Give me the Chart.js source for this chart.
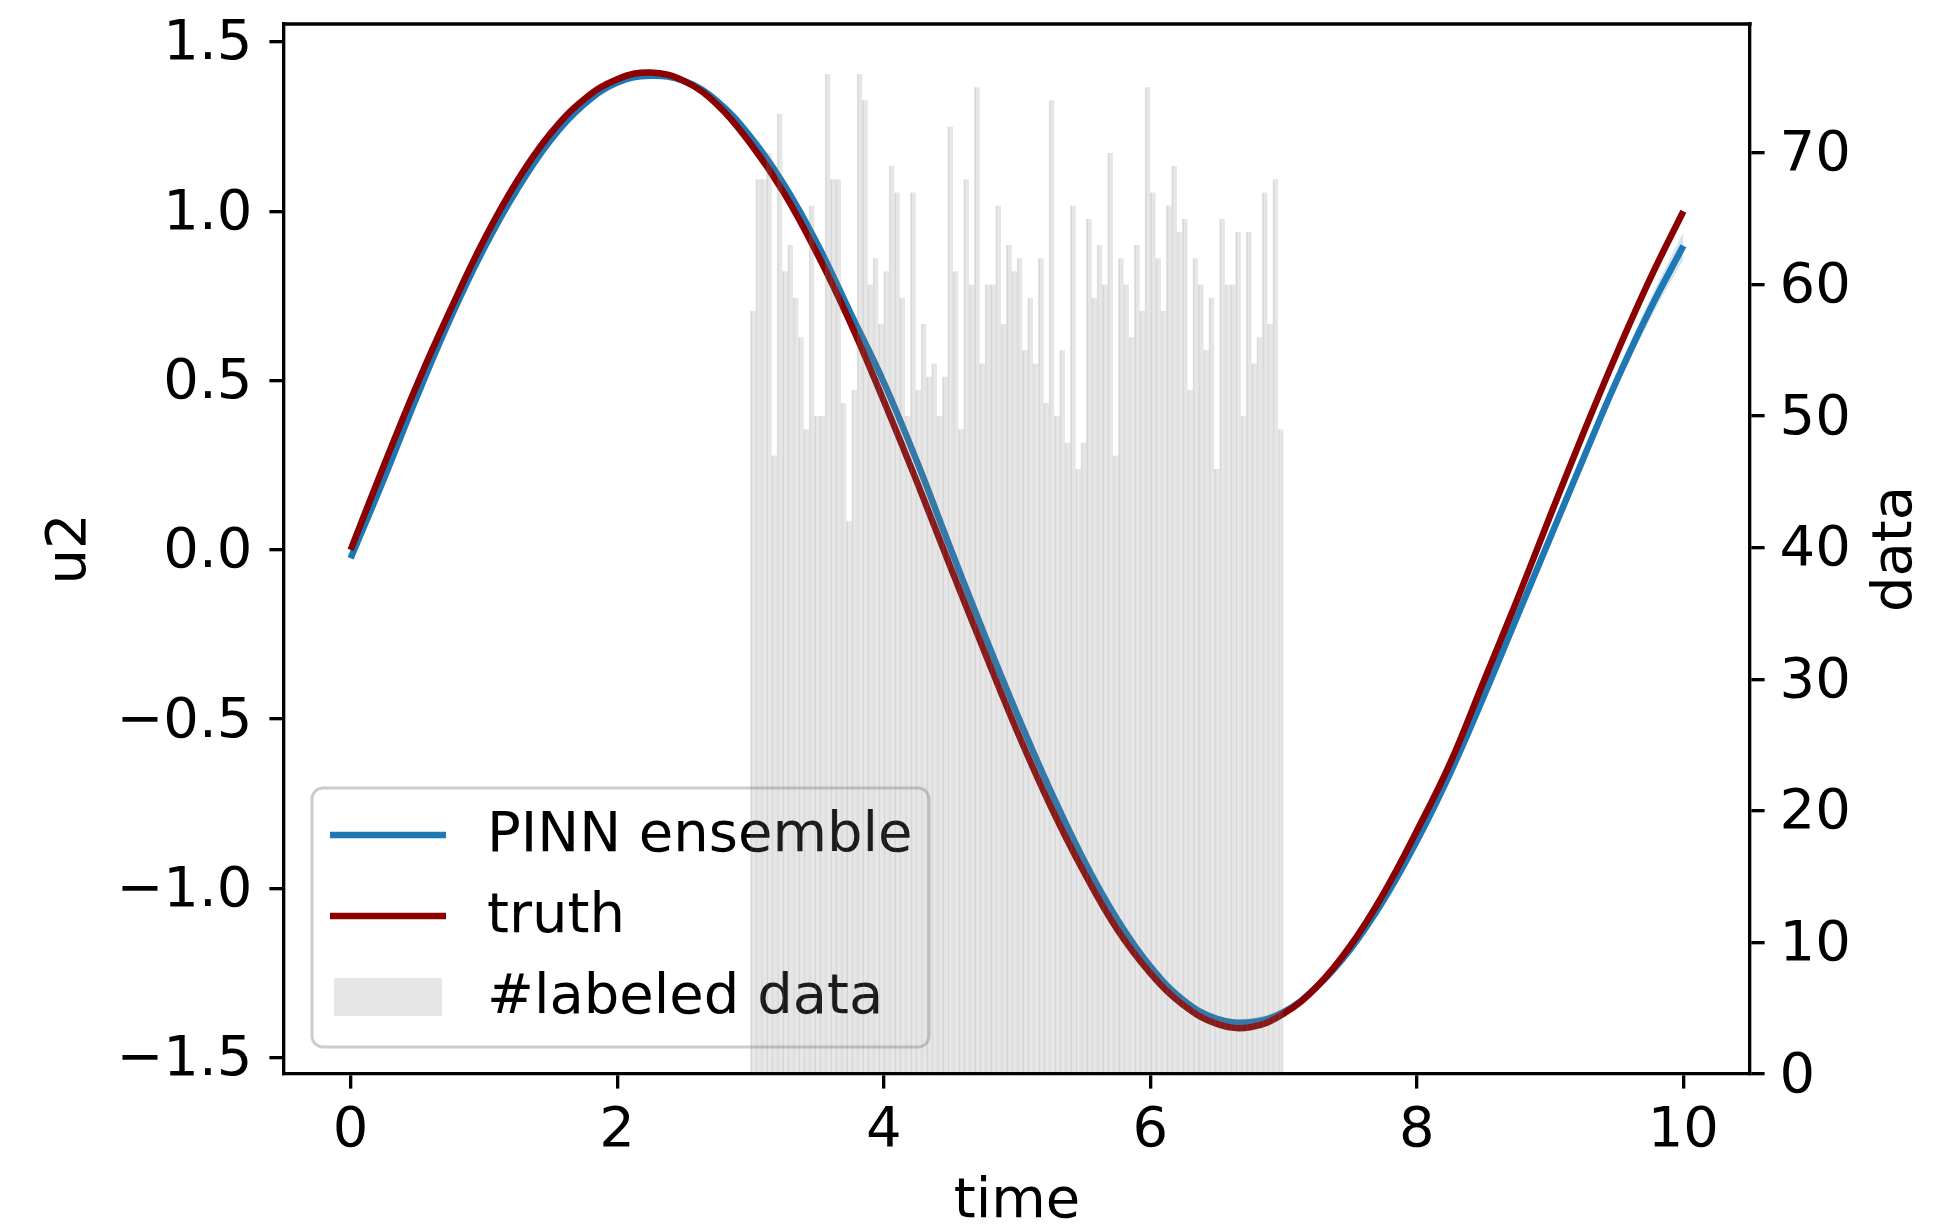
<!DOCTYPE html>
<html lang="en">
<head>
  <meta charset="UTF-8">
  <title>PINN ensemble vs truth</title>
  <style>
    html, body {
      margin: 0;
      padding: 0;
      background: #ffffff;
    }
    #wrap {
      width: 1942px;
      height: 1228px;
    }
  </style>
  <script src="https://cdn.jsdelivr.net/npm/chart.js@4.4.0/dist/chart.umd.min.js"></script>
</head>
<body>
  <div id="wrap"><canvas id="chart" width="1942" height="1228"></canvas></div>

  <script>
    // sample times for the two curves
    const time = [0, 0.25, 0.5, 0.75, 1, 1.25, 1.5, 1.75, 2, 2.25, 2.5, 2.75, 3, 3.25, 3.5, 3.75,
      4, 4.25, 4.5, 4.75, 5, 5.25, 5.5, 5.75, 6, 6.25, 6.5, 6.75, 7, 7.25, 7.5, 7.75,
      8, 8.25, 8.5, 8.75, 9, 9.25, 9.5, 9.75, 10];

    const truth = [0.00, 0.25, 0.49, 0.71, 0.915, 1.09, 1.23, 1.33, 1.39, 1.41, 1.385, 1.315,
      1.20, 1.055, 0.875, 0.67, 0.44, 0.20, -0.05, -0.295, -0.535, -0.755, -0.95, -1.12,
      -1.25, -1.345, -1.40, -1.41, -1.37, -1.29, -1.17, -1.015, -0.83, -0.63, -0.39, -0.15,
      0.10, 0.345, 0.58, 0.80, 1.00];

    const pinnMean = [-0.025, 0.21, 0.455, 0.685, 0.89, 1.065, 1.21, 1.315, 1.38, 1.40, 1.385, 1.325,
      1.22, 1.08, 0.905, 0.70, 0.495, 0.26, 0.005, -0.245, -0.485, -0.71, -0.915, -1.09,
      -1.23, -1.33, -1.385, -1.395, -1.365, -1.29, -1.18, -1.035, -0.86, -0.66, -0.435, -0.20,
      0.035, 0.27, 0.50, 0.71, 0.898];

    // half width of the ensemble band
    const pinnSpread = [0.005, 0.005, 0.005, 0.005, 0.005, 0.005, 0.005, 0.005, 0.005, 0.005, 0.005, 0.005,
      0.005, 0.005, 0.005, 0.005, 0.005, 0.005, 0.005, 0.005, 0.005, 0.005, 0.005, 0.005,
      0.006, 0.008, 0.010, 0.012, 0.012, 0.011, 0.010, 0.009, 0.008, 0.008, 0.009, 0.010,
      0.012, 0.016, 0.022, 0.030, 0.040];

    // histogram of the labeled points, 100 bins between histStart and histEnd
    const histStart = 3;
    const histEnd = 7;
    const histCounts = [
      58, 68, 68, 70, 47, 73, 61, 63, 59, 56,
      49, 66, 50, 50, 76, 68, 68, 51, 42, 52,
      76, 74, 60, 62, 57, 61, 69, 67, 59, 50,
      67, 52, 57, 53, 54, 50, 53, 72, 61, 49,
      68, 60, 75, 54, 60, 60, 66, 57, 63, 61,
      62, 55, 59, 54, 62, 51, 74, 50, 55, 48,
      66, 46, 48, 65, 59, 63, 60, 70, 47, 62,
      60, 56, 63, 58, 75, 67, 62, 58, 66, 69,
      64, 65, 52, 62, 60, 55, 59, 46, 65, 60,
      60, 64, 50, 64, 54, 56, 67, 57, 68, 49
    ];

    const FAMILY = '"DejaVu Sans", sans-serif';
    const FS = 56;
    const LW = 3.33;
    const TICK = 14.6;

    const binWidth = (histEnd - histStart) / histCounts.length;
    const histPoints = histCounts.map((c, i) => ({ x: histStart + binWidth * (i + 0.5), y: c }));
    const pts = arr => time.map((t, i) => ({ x: t, y: arr[i] }));

    const fmtSigned = v => (v < 0 ? '\u2212' : '') + Math.abs(v).toFixed(1);

    // legend in the lower left, drawn right before the histogram so the bars cover it
    const legendBox = {
      id: 'legendBox',
      beforeDatasetDraw(chart, args) {
        if (args.index !== 0) return;
        const ctx = chart.ctx;
        const a = chart.chartArea;
        const ds = chart.data.datasets;
        const x0 = a.left + 28, y0 = 788, w = 617, h = 259;
        ctx.save();
        ctx.beginPath();
        ctx.roundRect(x0, y0, w, h, 11);
        ctx.fillStyle = 'rgba(255,255,255,0.8)';
        ctx.fill();
        ctx.lineWidth = 3;
        ctx.strokeStyle = '#cccccc';
        ctx.stroke();

        const hx0 = x0 + 18, hx1 = hx0 + 116, tx = x0 + 175;
        const rows = [
          { y: 835, ds: ds[3], kind: 'line' },
          { y: 916, ds: ds[4], kind: 'line' },
          { y: 997, ds: ds[0], kind: 'patch' }
        ];
        ctx.font = FS + 'px ' + FAMILY;
        ctx.textBaseline = 'middle';
        ctx.textAlign = 'left';
        rows.forEach(r => {
          if (r.kind === 'line') {
            ctx.beginPath();
            ctx.moveTo(hx0, r.y);
            ctx.lineTo(hx1, r.y);
            ctx.lineWidth = r.ds.borderWidth;
            ctx.lineCap = 'butt';
            ctx.strokeStyle = r.ds.borderColor;
            ctx.stroke();
          } else {
            ctx.fillStyle = r.ds.backgroundColor;
            ctx.fillRect(hx0 + 4, r.y - 19, hx1 - hx0 - 8, 38);
          }
          ctx.fillStyle = '#000000';
          ctx.fillText(r.ds.label, tx, r.y + 1);
        });
        ctx.restore();
      },
      afterDraw(chart) {
        const ctx = chart.ctx;
        const a = chart.chartArea;
        ctx.save();
        // top spine
        ctx.beginPath();
        ctx.moveTo(a.left - LW / 2, a.top);
        ctx.lineTo(a.right + LW / 2, a.top);
        ctx.lineWidth = LW;
        ctx.strokeStyle = '#000000';
        ctx.stroke();
        // right axis label, reading upwards like the left one
        ctx.translate(1896, (a.top + a.bottom) / 2);
        ctx.rotate(-Math.PI / 2);
        ctx.font = FS + 'px ' + FAMILY;
        ctx.fillStyle = '#000000';
        ctx.textAlign = 'center';
        ctx.textBaseline = 'middle';
        ctx.fillText('data', 0, 0);
        ctx.restore();
      }
    };

    const axisGrid = {
      display: true,
      drawOnChartArea: false,
      drawTicks: true,
      offset: false,
      tickLength: TICK,
      tickWidth: LW,
      tickColor: '#000000',
      lineWidth: LW
    };
    const axisBorder = { display: true, color: '#000000', width: LW };

    const curve = {
      pointRadius: 0,
      tension: 0.4,
      fill: false,
      yAxisID: 'y'
    };

    new Chart(document.getElementById('chart'), {
      type: 'line',
      data: {
        datasets: [
          {
            type: 'bar',
            label: '#labeled data',
            data: histPoints,
            yAxisID: 'y2',
            backgroundColor: 'rgba(128,128,128,0.2)',
            borderColor: 'rgba(128,128,128,0.22)',
            borderWidth: { left: 1, right: 0, top: 0, bottom: 0 },
            borderSkipped: false,
            barPercentage: 1,
            categoryPercentage: 1,
            order: 0
          },
          Object.assign({}, curve, {
            label: 'band upper',
            data: pts(pinnMean.map((m, i) => m + pinnSpread[i])),
            borderWidth: 0,
            borderColor: 'rgba(0,0,0,0)',
            backgroundColor: 'rgba(31,119,180,0.2)',
            fill: '+1',
            order: 3
          }),
          Object.assign({}, curve, {
            label: 'band lower',
            data: pts(pinnMean.map((m, i) => m - pinnSpread[i])),
            borderWidth: 0,
            borderColor: 'rgba(0,0,0,0)',
            order: 3
          }),
          Object.assign({}, curve, {
            label: 'PINN ensemble',
            data: pts(pinnMean),
            borderColor: '#1f77b4',
            borderWidth: 6.5,
            order: 2
          }),
          Object.assign({}, curve, {
            label: 'truth',
            data: pts(truth),
            borderColor: '#8b0000',
            borderWidth: 6.5,
            order: 1
          })
        ]
      },
      options: {
        responsive: false,
        animation: false,
        devicePixelRatio: 1,
        layout: { padding: { top: 24, left: 0, right: 0, bottom: 0 } },
        plugins: {
          legend: { display: false },
          tooltip: { enabled: false }
        },
        scales: {
          x: {
            type: 'linear',
            position: 'bottom',
            min: -0.5,
            max: 10.5,
            offset: false,
            z: 1,
            grid: axisGrid,
            border: axisBorder,
            ticks: {
              stepSize: 2,
              includeBounds: false,
              autoSkip: false,
              maxRotation: 0,
              padding: 9,
              color: '#000000',
              font: { family: FAMILY, size: FS },
              callback: v => String(v)
            },
            title: {
              display: true,
              text: 'time',
              color: '#000000',
              font: { family: FAMILY, size: FS, lineHeight: 0.9 },
              padding: { top: 0, bottom: 0 }
            },
            afterFit: s => { s.height = 154; s.paddingLeft = 0; s.paddingRight = 0; }
          },
          y: {
            type: 'linear',
            position: 'left',
            min: -1.548,
            max: 1.553,
            z: 1,
            grid: axisGrid,
            border: axisBorder,
            ticks: {
              stepSize: 0.5,
              includeBounds: false,
              padding: 17,
              labelOffset: 3,
              color: '#000000',
              font: { family: FAMILY, size: FS },
              callback: v => fmtSigned(v)
            },
            title: {
              display: true,
              text: 'u2',
              color: '#000000',
              font: { family: FAMILY, size: FS, lineHeight: 0.9 },
              padding: { top: 45, bottom: 0 }
            },
            afterFit: s => { s.width = 284; s.paddingTop = 0; s.paddingBottom = 0; }
          },
          y2: {
            type: 'linear',
            position: 'right',
            min: 0,
            max: 79.8,
            z: 1,
            grid: axisGrid,
            border: axisBorder,
            ticks: {
              stepSize: 10,
              includeBounds: false,
              padding: 15,
              labelOffset: 3,
              color: '#000000',
              font: { family: FAMILY, size: FS },
              callback: v => String(v)
            },
            title: { display: false },
            afterFit: s => { s.width = 192; s.paddingTop = 0; s.paddingBottom = 0; }
          }
        }
      },
      plugins: [legendBox]
    });
  </script>
</body>
</html>
